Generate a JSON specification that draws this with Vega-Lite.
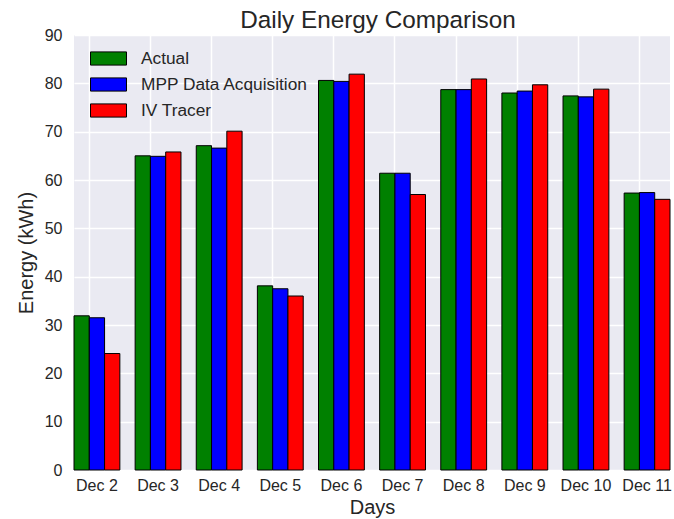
{
  "$schema": "https://vega.github.io/schema/vega-lite/v6.json",
  "autosize": {"type": "none"},
  "padding": {"left": 74, "top": 35, "right": 4, "bottom": 49},
  "width": 596,
  "height": 435,
  "title": {"text": "Daily Energy Comparison", "fontSize": 24.3, "fontWeight": "normal", "font": "Liberation Sans", "color": "#262626", "baseline": "alphabetic", "offset": -1.5, "dy": 24, "dx": 6},
  "data": {"values": [
    {"day": "Dec 2", "series": "Actual", "value": 31.9},
    {"day": "Dec 2", "series": "MPP Data Acquisition", "value": 31.5},
    {"day": "Dec 2", "series": "IV Tracer", "value": 24.1},
    {"day": "Dec 3", "series": "Actual", "value": 65.0},
    {"day": "Dec 3", "series": "MPP Data Acquisition", "value": 64.9},
    {"day": "Dec 3", "series": "IV Tracer", "value": 65.8},
    {"day": "Dec 4", "series": "Actual", "value": 67.1},
    {"day": "Dec 4", "series": "MPP Data Acquisition", "value": 66.6},
    {"day": "Dec 4", "series": "IV Tracer", "value": 70.1},
    {"day": "Dec 5", "series": "Actual", "value": 38.1},
    {"day": "Dec 5", "series": "MPP Data Acquisition", "value": 37.5},
    {"day": "Dec 5", "series": "IV Tracer", "value": 36.0},
    {"day": "Dec 6", "series": "Actual", "value": 80.6},
    {"day": "Dec 6", "series": "MPP Data Acquisition", "value": 80.4},
    {"day": "Dec 6", "series": "IV Tracer", "value": 81.9},
    {"day": "Dec 7", "series": "Actual", "value": 61.4},
    {"day": "Dec 7", "series": "MPP Data Acquisition", "value": 61.4},
    {"day": "Dec 7", "series": "IV Tracer", "value": 57.0},
    {"day": "Dec 8", "series": "Actual", "value": 78.7},
    {"day": "Dec 8", "series": "MPP Data Acquisition", "value": 78.7},
    {"day": "Dec 8", "series": "IV Tracer", "value": 80.9},
    {"day": "Dec 9", "series": "Actual", "value": 78.0},
    {"day": "Dec 9", "series": "MPP Data Acquisition", "value": 78.4},
    {"day": "Dec 9", "series": "IV Tracer", "value": 79.7},
    {"day": "Dec 10", "series": "Actual", "value": 77.4},
    {"day": "Dec 10", "series": "MPP Data Acquisition", "value": 77.2},
    {"day": "Dec 10", "series": "IV Tracer", "value": 78.8},
    {"day": "Dec 11", "series": "Actual", "value": 57.3},
    {"day": "Dec 11", "series": "MPP Data Acquisition", "value": 57.4},
    {"day": "Dec 11", "series": "IV Tracer", "value": 56.0}
  ]},
  "mark": {"type": "bar", "stroke": "#000000", "strokeWidth": 1, "opacity": 1},
  "encoding": {
    "x": {
      "field": "day", "type": "nominal", "sort": null,
      "scale": {"paddingInner": 0.25, "paddingOuter": 0},
      "axis": {"title": "Days", "labelAngle": 0, "bandPosition": 0.3333, "grid": true}
    },
    "xOffset": {"field": "series", "type": "nominal", "sort": ["Actual", "MPP Data Acquisition", "IV Tracer"], "scale": {"paddingInner": 0, "paddingOuter": 0}},
    "y": {
      "field": "value", "type": "quantitative",
      "scale": {"domain": [0, 90], "nice": false},
      "axis": {"title": "Energy (kWh)", "values": [0, 10, 20, 30, 40, 50, 60, 70, 80, 90]}
    },
    "color": {
      "field": "series", "type": "nominal",
      "scale": {"domain": ["Actual", "MPP Data Acquisition", "IV Tracer"], "range": ["#008000", "#0000ff", "#ff0000"]},
      "legend": {
        "title": null, "orient": "none", "legendX": 24, "legendY": 13,
        "symbolType": "M-1.8,-0.66 h3.6 v1.32 h-3.6 z", "symbolSize": 400,
        "symbolStrokeColor": "#000000", "symbolStrokeWidth": 1, "symbolOpacity": 1,
        "labelOffset": 22, "rowPadding": 6, "padding": 0, "labelLimit": 0,
        "labelFontSize": 17.3, "labelFont": "Liberation Sans", "labelColor": "#262626"
      }
    }
  },
  "config": {
    "view": {"fill": "#eaeaf2", "stroke": null},
    "axis": {
      "domain": false, "ticks": false, "gridColor": "#ffffff", "gridWidth": 1.5, "gridOpacity": 1,
      "labelFont": "Liberation Sans", "labelFontSize": 16, "labelColor": "#262626",
      "titleFont": "Liberation Sans", "titleFontSize": 20, "titleFontWeight": "normal", "titleColor": "#262626"
    },
    "axisX": {"labelPadding": 7, "titlePadding": 4},
    "axisY": {"labelPadding": 12, "titlePadding": 8}
  }
}
